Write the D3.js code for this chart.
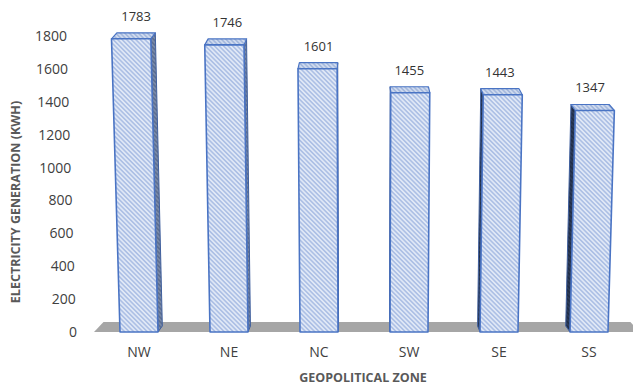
<!DOCTYPE html>
<html>
<head>
<meta charset="utf-8">
<script src="https://cdn.jsdelivr.net/npm/d3@7"></script>
<style>
  body { margin: 0; background: #fff; }
  text { font-family: "Open Sans", "Liberation Sans", sans-serif; }
</style>
</head>
<body>
<svg id="chart" width="633" height="386"></svg>
<script>
// Electricity generation per geopolitical zone (kWh)
const zones = ["NW", "NE", "NC", "SW", "SE", "SS"];
const generation = [1783, 1746, 1601, 1455, 1443, 1347];
const yTicks = [0, 200, 400, 600, 800, 1000, 1200, 1400, 1600, 1800];

const svg = d3.select("#chart");

const floorY = 332;          // front edge of the floor
const vanishX = 365;         // horizontal centre of the perspective
const lean = 0.035 / 296;    // outward lean of verticals per px of height
const recede = 0.0035;       // pull toward centre per px of depth
const barDepth = 6;
const floorDepth = 10;

const x = d3.scaleBand()
  .domain(zones)
  .range([94, 634])
  .paddingInner(0.578)
  .paddingOuter(0.289);

const y = d3.scaleLinear().domain([0, 1800]).range([floorY, 36]);

// simple perspective: px = flat x at the front plane, v = value, z = depth
function proj(px, v, z) {
  const h = floorY - y(v);
  const sx = vanishX + (px - vanishX) * (1 + lean * h) * (1 - recede * z);
  const sy = y(v) - z;
  return [sx, sy];
}

// hatch patterns for the faces of the columns
const defs = svg.append("defs");
function hatch(id, bg, fg) {
  const p = defs.append("pattern")
    .attr("id", id)
    .attr("patternUnits", "userSpaceOnUse")
    .attr("width", 3.2).attr("height", 3.2)
    .attr("patternTransform", "rotate(-45)");
  p.append("rect").attr("width", 3.2).attr("height", 3.2).attr("fill", bg);
  p.append("line").attr("x1", 0.8).attr("y1", 0).attr("x2", 0.8).attr("y2", 3.2)
    .attr("stroke", fg).attr("stroke-width", 1);
}
hatch("hFront", "#e0e8f6", "#8ea9db");
hatch("hTop", "#cfdaee", "#8aa4d4");
hatch("hSideLight", "#7a8aa8", "#4d5f82");
hatch("hSideDark", "#2c3b58", "#1a2540");

const line = d3.line();

// floor
svg.append("path")
  .attr("d", line([proj(94, 0, 0), proj(640, 0, 0), proj(640, 0, floorDepth), proj(94, 0, floorDepth)]) + "Z")
  .attr("fill", "#a6a6a6");

// columns
const bars = svg.append("g").selectAll("g")
  .data(zones.map((z, i) => ({ zone: z, value: generation[i] })))
  .join("g");

bars.each(function (d) {
  const g = d3.select(this);
  const x0 = x(d.zone), x1 = x0 + x.bandwidth();
  const mid = (x0 + x1) / 2;
  const sx = mid < vanishX ? x1 : x0;
  const side = [proj(sx, 0, 0), proj(sx, d.value, 0), proj(sx, d.value, barDepth), proj(sx, 0, barDepth)];
  const top = [proj(x0, d.value, 0), proj(x1, d.value, 0), proj(x1, d.value, barDepth), proj(x0, d.value, barDepth)];
  const front = [proj(x0, 0, 0), proj(x1, 0, 0), proj(x1, d.value, 0), proj(x0, d.value, 0)];

  g.append("path").attr("d", line(side) + "Z")
    .attr("fill", mid < vanishX ? "url(#hSideLight)" : "url(#hSideDark)")
    .attr("stroke", "#3f5f9e").attr("stroke-width", 1).attr("stroke-linejoin", "round");
  g.append("path").attr("d", line(top) + "Z")
    .attr("fill", "url(#hTop)")
    .attr("stroke", "#4a74c4").attr("stroke-width", 1.2).attr("stroke-linejoin", "round");
  g.append("path").attr("d", line(front) + "Z")
    .attr("fill", "url(#hFront)")
    .attr("stroke", "#4a74c4").attr("stroke-width", 1.6).attr("stroke-linejoin", "round");

  // value label above the top face
  const tl = proj(x0, d.value, barDepth), tr = proj(x1, d.value, barDepth);
  g.append("text")
    .attr("x", (tl[0] + tr[0]) / 2)
    .attr("y", tl[1] - 12)
    .attr("text-anchor", "middle")
    .attr("font-size", 13)
    .attr("fill", "#333333")
    .text(d.value);
});

// value axis (labels follow the leaning side wall)
const yAxis = svg.append("g")
  .call(d3.axisLeft(y).tickValues(yTicks).tickFormat(d3.format("d")).tickSize(0).tickPadding(0));
yAxis.select(".domain").remove();
yAxis.selectAll(".tick text")
  .attr("x", d => proj(77, d, 0)[0])
  .attr("font-size", 14)
  .attr("font-family", "\"Open Sans\", sans-serif")
  .attr("fill", "#404040");

// category axis
const xAxis = svg.append("g")
  .attr("transform", `translate(0,${floorY})`)
  .call(d3.axisBottom(x).tickSize(0).tickPadding(15));
xAxis.select(".domain").remove();
xAxis.selectAll(".tick text")
  .attr("font-size", 14)
  .attr("font-family", "\"Open Sans\", sans-serif")
  .attr("fill", "#404040");

// axis titles
svg.append("text")
  .attr("x", 363).attr("y", 382)
  .attr("text-anchor", "middle")
  .attr("font-size", 12.5).attr("font-weight", "bold")
  .attr("fill", "#595959")
  .text("GEOPOLITICAL ZONE");

svg.append("text")
  .attr("transform", "translate(20,202) rotate(-90)")
  .attr("text-anchor", "middle")
  .attr("font-size", 12.5).attr("font-weight", "bold")
  .attr("fill", "#595959")
  .text("ELECTRICITY GENERATION (KWH)");
</script>
</body>
</html>
